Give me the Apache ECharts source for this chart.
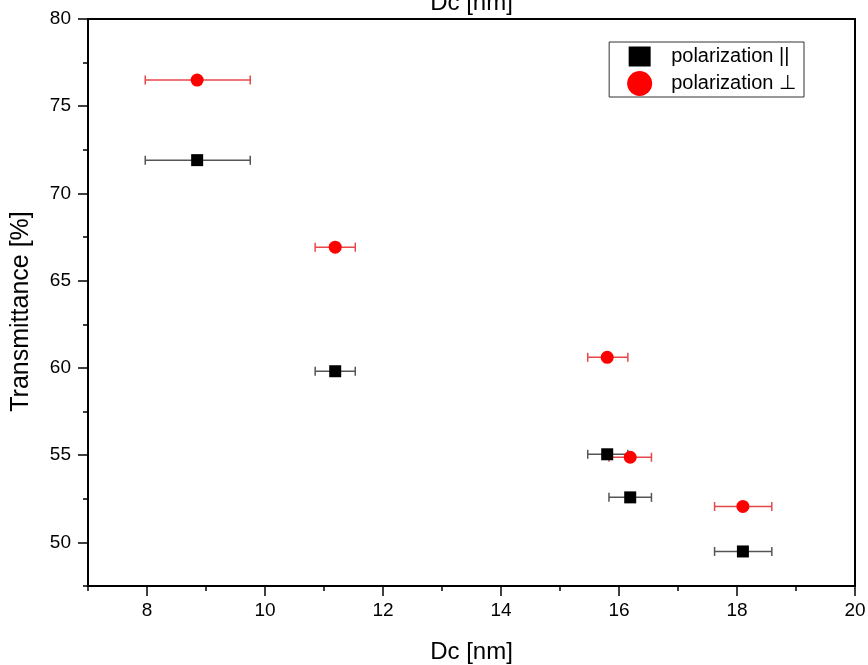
<!DOCTYPE html>
<html>
<head>
<meta charset="utf-8">
<script src="https://cdn.jsdelivr.net/npm/echarts@6/dist/echarts.min.js"></script>
<style>
  html, body { margin: 0; padding: 0; background: #fff; }
  #chart { width: 868px; height: 665px; }
</style>
</head>
<body>
<div id="chart"></div>
<script>
// Dc values (nm) and horizontal error limits
const dc = [8.85, 11.19, 15.80, 16.19, 18.10];
const dcLow = [7.97, 10.85, 15.47, 15.83, 17.62];
const dcHigh = [9.75, 11.53, 16.15, 16.55, 18.59];

// Transmittance [%]
const parallel = [71.91, 59.81, 55.05, 52.58, 49.48];
const perpendicular = [76.5, 66.92, 60.61, 54.88, 52.06];

const xMajor = [8, 10, 12, 14, 16, 18, 20];
const xMinor = [7, 9, 11, 13, 15, 17, 19];
const yMajor = [50, 55, 60, 65, 70, 75, 80];
const yMinor = [47.5, 52.5, 57.5, 62.5, 67.5, 72.5, 77.5];

const FONT = '"Liberation Sans", Arial, sans-serif';

const chart = echarts.init(document.getElementById('chart'));

const errRender = (color) => (params, api) => {
  const y = api.value(1);
  const a = api.coord([api.value(2), y]);
  const b = api.coord([api.value(3), y]);
  const cap = 4.5;
  const style = { stroke: color, lineWidth: 1.5 };
  return {
    type: 'group',
    children: [
      { type: 'line', shape: { x1: a[0], y1: a[1], x2: b[0], y2: b[1] }, style },
      { type: 'line', shape: { x1: a[0], y1: a[1] - cap, x2: a[0], y2: a[1] + cap }, style },
      { type: 'line', shape: { x1: b[0], y1: b[1] - cap, x2: b[0], y2: b[1] + cap }, style },
    ],
  };
};

const baseX = { type: 'value', min: 7, max: 20, splitLine: { show: false } };
const baseY = { type: 'value', min: 47.5, max: 80, splitLine: { show: false } };
const axisLine = { show: true, lineStyle: { color: '#000', width: 2 } };
const tickStyle = { color: '#000', width: 1.5 };
const nameStyle = { fontFamily: FONT, fontSize: 24, color: '#000' };

const option = {
  backgroundColor: '#fff',
  animation: false,
  grid: { left: 88, right: 13, top: 19, bottom: 79, containLabel: false, outerBoundsMode: 'none' },
  legend: {
    right: 64,
    top: 42,
    orient: 'vertical',
    itemWidth: 25,
    itemHeight: 25,
    itemGap: 2,
    padding: [2, 8, 1, 18],
    borderColor: '#333',
    borderWidth: 1,
    textStyle: { fontFamily: FONT, fontSize: 20, color: '#000', padding: [0, 0, 0, 14] },
    data: [
      { name: 'polarization ||', icon: 'path://M0,0M25,25M1.5,2.5h22v20h-22z' },
      { name: 'polarization \u22a5', icon: 'circle' },
    ],
  },
  xAxis: [
    {
      ...baseX,
      position: 'bottom',
      axisLine,
      axisTick: { show: true, customValues: xMajor, length: 10, lineStyle: tickStyle },
      axisLabel: { customValues: xMajor, color: '#000', fontFamily: FONT, fontSize: 19, margin: 15 },
      name: 'Dc [nm]',
      nameLocation: 'middle',
      nameGap: 54,
      nameTextStyle: nameStyle,
    },
    {
      ...baseX,
      position: 'bottom',
      axisLine: { show: false },
      axisTick: { show: true, customValues: xMinor, length: 5, lineStyle: tickStyle },
      axisLabel: { show: false },
    },
    {
      ...baseX,
      position: 'top',
      axisLine,
      axisTick: { show: false },
      axisLabel: { show: false },
      name: 'Dc [nm]',
      nameLocation: 'middle',
      nameGap: 4,
      nameTextStyle: nameStyle,
    },
  ],
  yAxis: [
    {
      ...baseY,
      position: 'left',
      axisLine,
      axisTick: { show: true, customValues: yMajor, length: 10, lineStyle: tickStyle },
      axisLabel: { customValues: yMajor, color: '#000', fontFamily: FONT, fontSize: 19, margin: 17 },
      name: 'Transmittance [%]',
      nameLocation: 'middle',
      nameGap: 54,
      nameTextStyle: { ...nameStyle, fontSize: 25, padding: [0, 18, 0, 0] },
    },
    {
      ...baseY,
      position: 'left',
      axisLine: { show: false },
      axisTick: { show: true, customValues: yMinor, length: 5, lineStyle: tickStyle },
      axisLabel: { show: false },
    },
    {
      ...baseY,
      position: 'right',
      axisLine,
      axisTick: { show: false },
      axisLabel: { show: false },
    },
  ],
  series: [
    {
      name: 'err parallel',
      type: 'custom',
      renderItem: errRender('#555'),
      data: dc.map((x, i) => [x, parallel[i], dcLow[i], dcHigh[i]]),
      encode: { x: [0, 2, 3], y: 1 },
      z: 1,
    },
    {
      name: 'err perpendicular',
      type: 'custom',
      renderItem: errRender('#e8474a'),
      data: dc.map((x, i) => [x, perpendicular[i], dcLow[i], dcHigh[i]]),
      encode: { x: [0, 2, 3], y: 1 },
      z: 1,
    },
    {
      name: 'polarization ||',
      type: 'scatter',
      symbol: 'rect',
      symbolSize: 12,
      itemStyle: { color: '#000', opacity: 1 },
      data: dc.map((x, i) => [x, parallel[i]]),
      z: 3,
    },
    {
      name: 'polarization \u22a5',
      type: 'scatter',
      symbol: 'circle',
      symbolSize: 13,
      itemStyle: { color: '#ff0000', opacity: 1 },
      data: dc.map((x, i) => [x, perpendicular[i]]),
      z: 4,
    },
  ],
};

chart.setOption(option);
</script>
</body>
</html>
